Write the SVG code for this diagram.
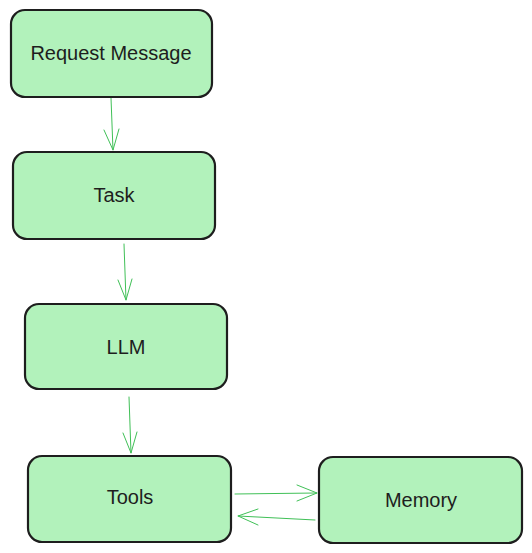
<svg xmlns="http://www.w3.org/2000/svg" width="532" height="553" viewBox="0 0 532 553">
<style>
.n rect{fill:#b2f2bb;stroke:#1e1e1e;stroke-width:2.2}
.n text{font-family:"Liberation Sans",Arial,sans-serif;font-size:20px;fill:#1e1e1e;text-anchor:middle;dominant-baseline:central}
.c path{fill:none;stroke:#40c057;stroke-width:1;stroke-linecap:round;stroke-linejoin:round}
</style>
<rect width="532" height="553" fill="#ffffff"/>
<g class="c" id="connectors">
<path d="M111,98 L113,150 M104,130 L113,150 L119,129"/>
<path d="M124,244 L126,300 M118,280 L126,300 L132,279"/>
<path d="M129,397 L131,453 M123,433 L131,453 L137,432"/>
<path d="M235,494 L317,493 M297,485 L317,493 L297,501"/>
<path d="M315,520 L238,516 M258,509 L238,516 L258,525"/>
</g>
<g class="n" id="node-request"><rect x="11" y="10" width="201" height="87" rx="14"/><text x="111" y="53">Request Message</text></g>
<g class="n" id="node-task"><rect x="13" y="152" width="202" height="87" rx="14"/><text x="114" y="195">Task</text></g>
<g class="n" id="node-llm"><rect x="25" y="304" width="202" height="85" rx="14"/><text x="126" y="347">LLM</text></g>
<g class="n" id="node-tools"><rect x="28" y="456" width="203" height="86" rx="14"/><text x="130" y="497">Tools</text></g>
<g class="n" id="node-memory"><rect x="319" y="457" width="203" height="86" rx="14"/><text x="421" y="500">Memory</text></g>
</svg>
